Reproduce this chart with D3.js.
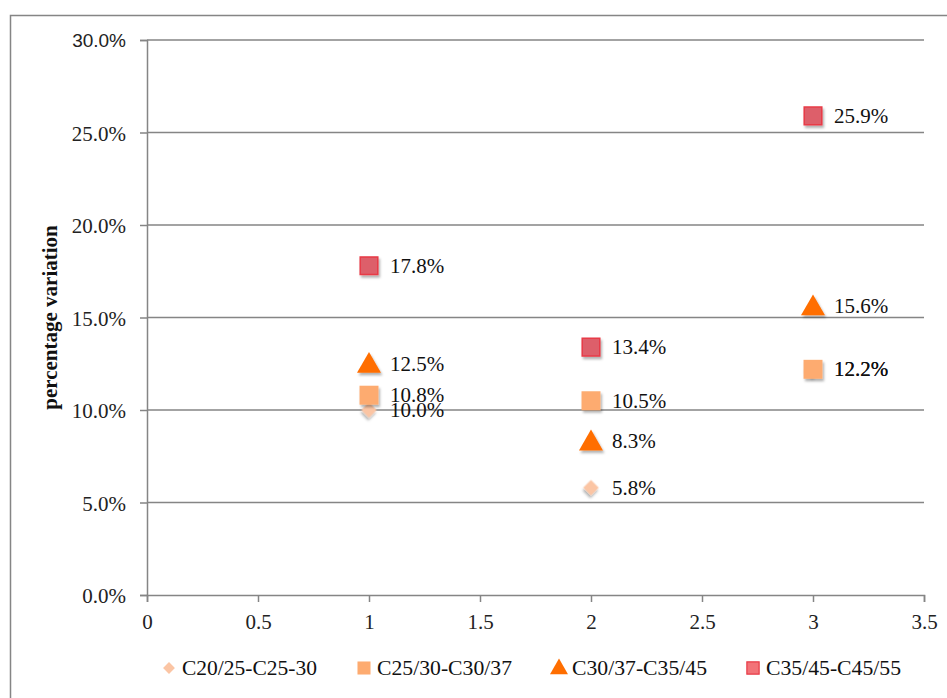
<!DOCTYPE html>
<html>
<head>
<meta charset="utf-8">
<script src="https://cdn.jsdelivr.net/npm/d3@7"></script>
<style>
  html, body { margin: 0; padding: 0; background: #fff; }
  svg { display: block; }
</style>
</head>
<body>
<svg id="chart" width="947" height="698"></svg>
<script>
// Percentage variation per concrete class step
const xValues = [1, 2, 3];
const seriesNames = ["C20/25-C25-30", "C25/30-C30/37", "C30/37-C35/45", "C35/45-C45/55"];
const s1 = [10.0, 5.8, 12.2];
const s2 = [10.8, 10.5, 12.2];
const s3 = [12.5, 8.3, 15.6];
const s4 = [17.8, 13.4, 25.9];
const yTicks = [0, 5, 10, 15, 20, 25, 30];
const xTicks = [0, 0.5, 1, 1.5, 2, 2.5, 3, 3.5];

const svg = d3.select("#chart");
const serif = "'Liberation Serif', 'Times New Roman', serif";
const sans = "'Liberation Sans', Arial, sans-serif";
const grid = "#858585";

// drop shadow for markers
const defs = svg.append("defs");
const f = defs.append("filter").attr("id", "shadow")
  .attr("x", "-50%").attr("y", "-50%").attr("width", "200%").attr("height", "200%");
f.append("feDropShadow").attr("dx", 1.5).attr("dy", 2.5)
  .attr("stdDeviation", 1.2).attr("flood-color", "#000").attr("flood-opacity", 0.3);

// outer frame
svg.append("path")
  .attr("d", "M10.5,700 V15.5 H947")
  .attr("fill", "none").attr("stroke", grid).attr("stroke-width", 1.5);

const x = d3.scaleLinear().domain([0, 3.5]).range([147, 924]);
const y = d3.scaleLinear().domain([0, 30]).range([595, 40]);

// horizontal gridlines
svg.append("g").selectAll("line").data(yTicks.filter(d => d > 0)).join("line")
  .attr("x1", x(0)).attr("x2", x(3.5))
  .attr("y1", d => y(d)).attr("y2", d => y(d))
  .attr("stroke", grid).attr("stroke-width", 1.5);

// y axis
const yAxis = svg.append("g").attr("transform", `translate(${x(0)},0)`)
  .call(d3.axisLeft(y).tickValues(yTicks).tickSize(7).tickPadding(14)
    .tickFormat(d => d.toFixed(1) + "%"));
yAxis.attr("font-family", null).attr("font-size", null);
yAxis.select(".domain").attr("stroke", grid).attr("stroke-width", 1.5);
yAxis.selectAll(".tick line").attr("stroke", grid).attr("stroke-width", 1.5);
yAxis.selectAll(".tick text")
  .style("font-family", d => d === 30 ? sans : serif)
  .style("font-size", d => d === 30 ? "19px" : "21px")
  .attr("dy", "0.36em")
  .attr("fill", "#222");

// x axis
const xAxis = svg.append("g").attr("transform", `translate(0,${y(0)})`)
  .call(d3.axisBottom(x).tickValues(xTicks).tickSize(7).tickPadding(12)
    .tickFormat(d => String(d)));
xAxis.attr("font-family", null).attr("font-size", null);
xAxis.select(".domain").attr("stroke", grid).attr("stroke-width", 1.5);
xAxis.selectAll(".tick line").attr("stroke", grid).attr("stroke-width", 1.5);
xAxis.selectAll(".tick text")
  .style("font-family", serif).style("font-size", "21px").attr("fill", "#222");

// y axis title
svg.append("text")
  .attr("transform", `translate(57,${(y(0) + y(30)) / 2}) rotate(-90)`)
  .attr("text-anchor", "middle")
  .style("font-family", serif).style("font-weight", "bold").style("font-size", "21px")
  .attr("fill", "#111")
  .text("percentage variation");

// marker shapes (diamond = square turned 45 degrees)
const styles = [
  { sym: d3.symbolSquare, size: 120, rot: 45, fill: "#fbc5a4", stroke: "none", dy: 0 },
  { sym: d3.symbolSquare, size: 360, rot: 0, fill: "#fdab70", stroke: "none", dy: 0 },
  { sym: d3.symbolTriangle, size: 250, rot: 0, fill: "#ff6e00", stroke: "none", dy: 2 },
  { sym: d3.symbolSquare, size: 310, rot: 0, fill: "#dd5f6b", stroke: "#e83a46", dy: 0 }
];
const allSeries = [s1, s2, s3, s4];

allSeries.forEach((vals, i) => {
  const st = styles[i];
  const pts = vals.map((v, j) => ({ x: xValues[j], v }));
  svg.append("g").selectAll("path").data(pts).join("path")
    .attr("d", d3.symbol().type(st.sym).size(st.size))
    .attr("transform", d => `translate(${x(d.x)},${y(d.v) + st.dy}) rotate(${st.rot})`)
    .attr("fill", st.fill)
    .attr("stroke", st.stroke).attr("stroke-width", 1.5)
    .attr("filter", "url(#shadow)");
});

// value labels
allSeries.forEach((vals) => {
  svg.append("g").selectAll("text").data(vals.map((v, j) => ({ x: xValues[j], v }))).join("text")
    .attr("x", d => x(d.x) + 21)
    .attr("y", d => y(d.v) + 7)
    .style("font-family", serif).style("font-size", "21px").attr("fill", "#111")
    .text(d => d.v.toFixed(1) + "%");
});

// legend
const legendX = [169, 364, 559, 753];
const legendSizes = [70, 170, 140, 150];
const legend = svg.append("g");
seriesNames.forEach((name, i) => {
  const st = styles[i];
  const lx = legendX[i], ly = 668;
  legend.append("path")
    .attr("d", d3.symbol().type(st.sym).size(legendSizes[i]))
    .attr("transform", `translate(${lx},${ly + (i === 2 ? 1 : 0)}) rotate(${st.rot})`)
    .attr("fill", i === 3 ? "#f27378" : st.fill)
    .attr("stroke", st.stroke).attr("stroke-width", 1.2);
  legend.append("text")
    .attr("x", lx + 13).attr("y", 675)
    .attr("textLength", 135).attr("lengthAdjust", "spacingAndGlyphs")
    .style("font-family", serif).style("font-size", "22px").attr("fill", "#111")
    .text(name);
});
</script>
</body>
</html>
